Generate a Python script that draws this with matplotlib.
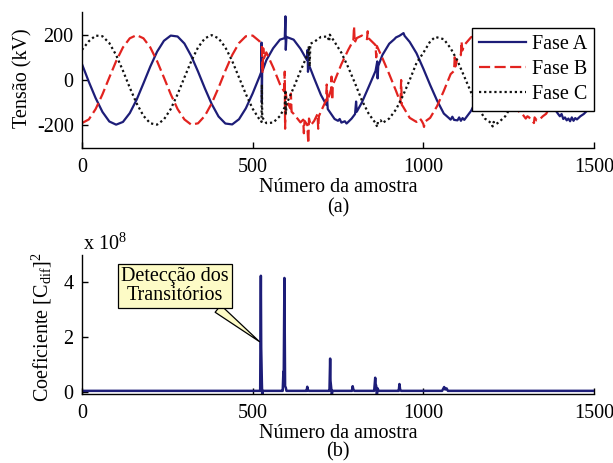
import matplotlib
matplotlib.use("Agg")
import matplotlib.pyplot as plt
import numpy as np

# ---------------- data ----------------
# Fase A (kV) per sample index
fase_a_amostra = [0, 20, 40, 60, 80, 100, 120, 140, 160, 180, 200, 220, 240, 260, 280, 300, 320, 340,
                  360, 380, 400, 420, 440, 460, 480, 500, 520, 525, 526, 527, 528, 530, 540, 560, 580,
                  594, 596, 597, 599, 620, 640, 659, 661, 662, 664, 680, 700, 716, 718, 720, 740, 750,
                  755, 760, 770, 775, 780, 790, 800, 803, 805, 820, 840, 860, 865, 866, 868, 880, 900,
                  915, 920, 930, 942, 945, 960, 980, 1000, 1020, 1040, 1060, 1075, 1080, 1085, 1090,
                  1100, 1105, 1110, 1115, 1120, 1128, 1140, 1160, 1180, 1200, 1220, 1240, 1260, 1280,
                  1300, 1320, 1340, 1360, 1380, 1395, 1400, 1405, 1410, 1415, 1420, 1425, 1430, 1435,
                  1440, 1445, 1450, 1460, 1470, 1480, 1500]
fase_a_tensao = [70, -8, -80, -141, -183, -197, -185, -146, -87, -15, 59, 125, 173, 196, 192, 161, 106, 37,
                 -37, -106, -161, -192, -196, -173, -125, -59, 15, 35, 165, -100, 60, 45, 87, 140, 178,
                 185, 281, 133, 190, 178, 138, 88, 133, 36, 70, 8, -66, -110, -80, -128, -172, -180,
                 -172, -188, -182, -192, -185, -170, -150, -95, -140, -99, -30, 40, 82, 7, 62, 110, 160,
                 180, 188, 195, 207, 195, 168, 118, 50, -22, -90, -148, -168, -175, -162, -176,
                 -178, -165, -180, -168, -176, -160, -136, -74, -1, 73, 136, 179, 196, 186,
                 152, 94, 23, -51, -118, -150, -160, -150, -172, -165, -178, -170, -182, -165,
                 -180, -168, -174, -160, -150, -135, -60]

# Fase B (kV)
fase_b_amostra = [0, 20, 40, 60, 80, 100, 120, 140, 160, 180, 200, 220, 240, 260, 280, 300, 320, 340,
                  360, 380, 400, 420, 440, 460, 480, 500, 520, 527, 529, 531, 533, 540, 560, 580, 592,
                  594, 595, 597, 600, 610, 612, 614, 620, 640, 648, 650, 652, 660, 663, 665, 670, 680,
                  690, 692, 694, 700, 715, 717, 719, 730, 731, 733, 735, 740, 760, 780, 795, 797, 799,
                  805, 820, 835, 837, 839, 860, 862, 864, 880, 900, 920, 933, 935, 937, 940, 960, 980,
                  990, 995, 1000, 1002, 1004, 1010, 1020, 1040, 1060, 1080, 1090, 1092, 1094, 1100,
                  1110, 1112, 1114, 1120, 1140, 1160, 1180, 1200, 1220, 1240, 1260, 1280, 1290, 1300,
                  1305, 1310, 1315, 1320, 1324, 1326, 1332, 1340, 1350, 1360, 1380, 1400, 1420, 1440,
                  1460, 1480, 1500]
fase_b_tensao = [-190, -174, -128, -63, 11, 83, 144, 184, 198, 184, 144, 83, 11, -63, -128, -174, -197, -191,
                 -158, -103, -34, 41, 110, 163, 193, 196, 171, 150, 30, 140, 95, 122, 56, -19, -50,
                 37, -215, -60, -90, -125, -60, -140, -149, -187, -175, -235, -180, -198, -280, -170, -200, -181,
                 -150, -215, -160, -139, -90, -20, -95, -40, 15, -89, -20, -4, 70, 133, 175, 237, 165,
                 185, 196, 180, 215, 185, 154, 100, 150, 97, 26, -48, -100, 0, -110, -116, -167, -185,
                 -170, -180, -194, -207, -185, -178, -167, -116, -48, 26, 40, 100, 60, 97,
                 110, 170, 130, 154, 189, 197, 178, 133, 70, -3, -76, -139, -150, -170,
                 -160, -165, -175, -180, -190, -165, -178, -175, -160, -149, -90, -19, 55, 122,
                 171, 196, 193]

# Fase C (kV)
fase_c_amostra = [0, 20, 40, 60, 80, 100, 120, 140, 160, 180, 200, 220, 240, 260, 280, 300, 320, 340,
                  360, 380, 400, 420, 440, 460, 480, 500, 520, 526, 527, 528, 540, 560, 580, 594, 596,
                  597, 600, 620, 640, 660, 665, 667, 669, 680, 700, 720, 724, 726, 740, 760, 780, 800,
                  820, 840, 855, 860, 865, 867, 875, 880, 890, 900, 920, 940, 960, 980, 1000, 1020, 1035,
                  1040, 1060, 1080, 1100, 1120, 1140, 1160, 1180, 1190, 1200, 1203, 1206, 1212, 1220,
                  1240, 1260, 1280, 1300, 1320, 1340, 1360, 1380, 1400, 1420, 1440, 1460, 1480, 1500]
fase_c_tensao = [133, 171, 196, 193, 163, 110, 41, -34, -103, -158, -191, -197, -174, -128, -63, 11, 83, 144,
                 184, 198, 184, 144, 84, 11, -62, -127, -174, -185, -20, -165, -190, -188, -159, -120, -44,
                 -148, -103, -34, 40, 109, 150, 60, 160, 168, 190, 192, 170, 200, 168, 120, 56, -15,
                 -90, -149, -180, -190, -207, -185, -178, -190, -180, -170, -130, -70, 0, 75, 120, 170, 190,
                 188, 180, 140, 85, 15, -55, -120, -170, -180, -192, -205, -185, -195, -188,
                 -160, -110, -45, 26, 97, 154, 189, 197, 178, 133, 70, -3, -76, -139]

# Squared difference coefficient
coef_amostra = [0, 518, 522, 524, 525, 527, 528, 530, 586, 588, 590, 591, 593, 595, 597, 599, 655, 658,
                660, 662, 665, 722, 725, 727, 728, 730, 732, 734, 788, 791, 793, 795, 798, 853, 856,
                859, 860, 862, 864, 866, 869, 925, 928, 930, 932, 935, 1055, 1058, 1061, 1064, 1068,
                1072, 1500]
coef_valor = [0.03e8, 0.03e8, 0.03e8, 4.24e8, 1.6e8, 0.3e8, -0.15e8, 0.03e8, 0.03e8, 0.03e8, 0.73e8, 0.5e8,
              4.16e8, 0.2e8, 0.15e8, 0.03e8, 0.03e8, 0.03e8, 0.18e8, 0.05e8, 0.03e8, 0.03e8, 0.03e8,
              1.21e8, 0.4e8, 0.15e8, -0.1e8, 0.03e8, 0.03e8, 0.03e8, 0.2e8, 0.08e8, 0.03e8, 0.03e8,
              0.03e8, 0.51e8, 0.3e8, 0.2e8, -0.15e8, 0.12e8, 0.03e8, 0.03e8, 0.03e8, 0.28e8, 0.08e8,
              0.03e8, 0.03e8, 0.1e8, 0.17e8, 0.08e8, 0.12e8, 0.03e8, 0.03e8]

x_ticks = [0, 500, 1000, 1500]
ya_ticks = [-200, 0, 200]
yb_ticks = [0, 2, 4]
escala = 1e8

# ---------------- style ----------------
plt.rcParams["font.family"] = ["Liberation Serif", "DejaVu Serif"]
plt.rcParams["mathtext.fontset"] = "custom"
plt.rcParams["mathtext.rm"] = "Liberation Serif"
plt.rcParams["mathtext.it"] = "Liberation Serif:italic"
plt.rcParams["axes.unicode_minus"] = False
plt.rcParams["font.size"] = 14

AZUL = "#1d1d78"
VERMELHO = "#e2231f"
PRETO = "#111111"
AMARELO = "#fdfbc6"

W, H = 613, 463
fig = plt.figure(figsize=(W / 100, H / 100), dpi=100)


def px_axes(left, top, right, bottom):
    return [left / W, 1 - bottom / H, (right - left) / W, (bottom - top) / H]


def estilo(ax):
    for s in ("top", "right"):
        ax.spines[s].set_visible(False)
    for s in ("left", "bottom"):
        ax.spines[s].set_linewidth(1.0)
        ax.spines[s].set_color("black")
    ax.tick_params(direction="in", length=4, width=1, labelsize=14.5, pad=7, colors="black")
    ax.tick_params(axis="y", pad=6)


# ---- (a) phase voltages ----
ax1 = fig.add_axes(px_axes(82, 12, 594, 148))
estilo(ax1)
ax1.plot(fase_a_amostra, fase_a_tensao, color=AZUL, lw=1.6, label="Fase A")
ax1.plot(fase_b_amostra, fase_b_tensao, color=VERMELHO, lw=1.6, ls=(0, (5.0, 2.0)), label="Fase B")
ax1.plot(fase_c_amostra, fase_c_tensao, color=PRETO, lw=1.6, ls=(0, (1.0, 1.3)), label="Fase C")
ax1.set_xlim(0, 1500)
ax1.set_ylim(-300, 300)
ax1.set_xticks(x_ticks)
ax1.set_yticks(ya_ticks)
leg = ax1.legend(loc="upper right", bbox_to_anchor=(1.0, 1 - 16 / 136), borderaxespad=0,
                 fancybox=False, framealpha=1, edgecolor="black", fontsize=14.5,
                 handlelength=2.3, handletextpad=0.3, labelspacing=0.28, borderpad=0.35)
leg.get_frame().set_linewidth(1.0)

# ---- (b) coefficient ----
ax2 = fig.add_axes(px_axes(82, 255, 594, 394))
estilo(ax2)
ax2.plot(coef_amostra, np.array(coef_valor) / escala, color=AZUL, lw=1.8)
ax2.set_xlim(0, 1500)
ax2.set_ylim(-0.085, 5)
ax2.set_xticks(x_ticks)
ax2.set_yticks(yb_ticks)
ax2.annotate("Detecção dos\nTransitórios", xy=(520, 1.83), xytext=(272, 3.87),
             ha="center", va="center", fontsize=14.5, linespacing=1.05,
             bbox=dict(boxstyle="square,pad=0.15", fc=AMARELO, ec="black", lw=0.9),
             arrowprops=dict(arrowstyle="wedge,tail_width=0.45", fc=AMARELO, ec="black",
                             lw=0.9, relpos=(0.86, 0.0), shrinkA=0, shrinkB=0))

# ---- labels ----
fig.text(22.5 / W, 1 - 78 / H, "Tensão (kV)", rotation=90, ha="center", va="center", fontsize=14.5)
fig.text(42 / W, 1 - 327 / H, "Coeficiente [C$_{\\mathrm{dif}}$]$^{2}$", rotation=90,
         ha="center", va="center", fontsize=14.5)
fig.text(338 / W, 1 - 188 / H, "Número da amostra", ha="center", va="center", fontsize=14.5)
fig.text(338 / W, 1 - 208 / H, "(a)", ha="center", va="center", fontsize=14.5)
fig.text(338 / W, 1 - 433 / H, "Número da amostra", ha="center", va="center", fontsize=14.5)
fig.text(338 / W, 1 - 452 / H, "(b)", ha="center", va="center", fontsize=14.5)
fig.text(83 / W, 1 - 244 / H, "x 10$^{8}$", ha="left", va="center", fontsize=14.5)

fig.savefig("out.png", dpi=100)
